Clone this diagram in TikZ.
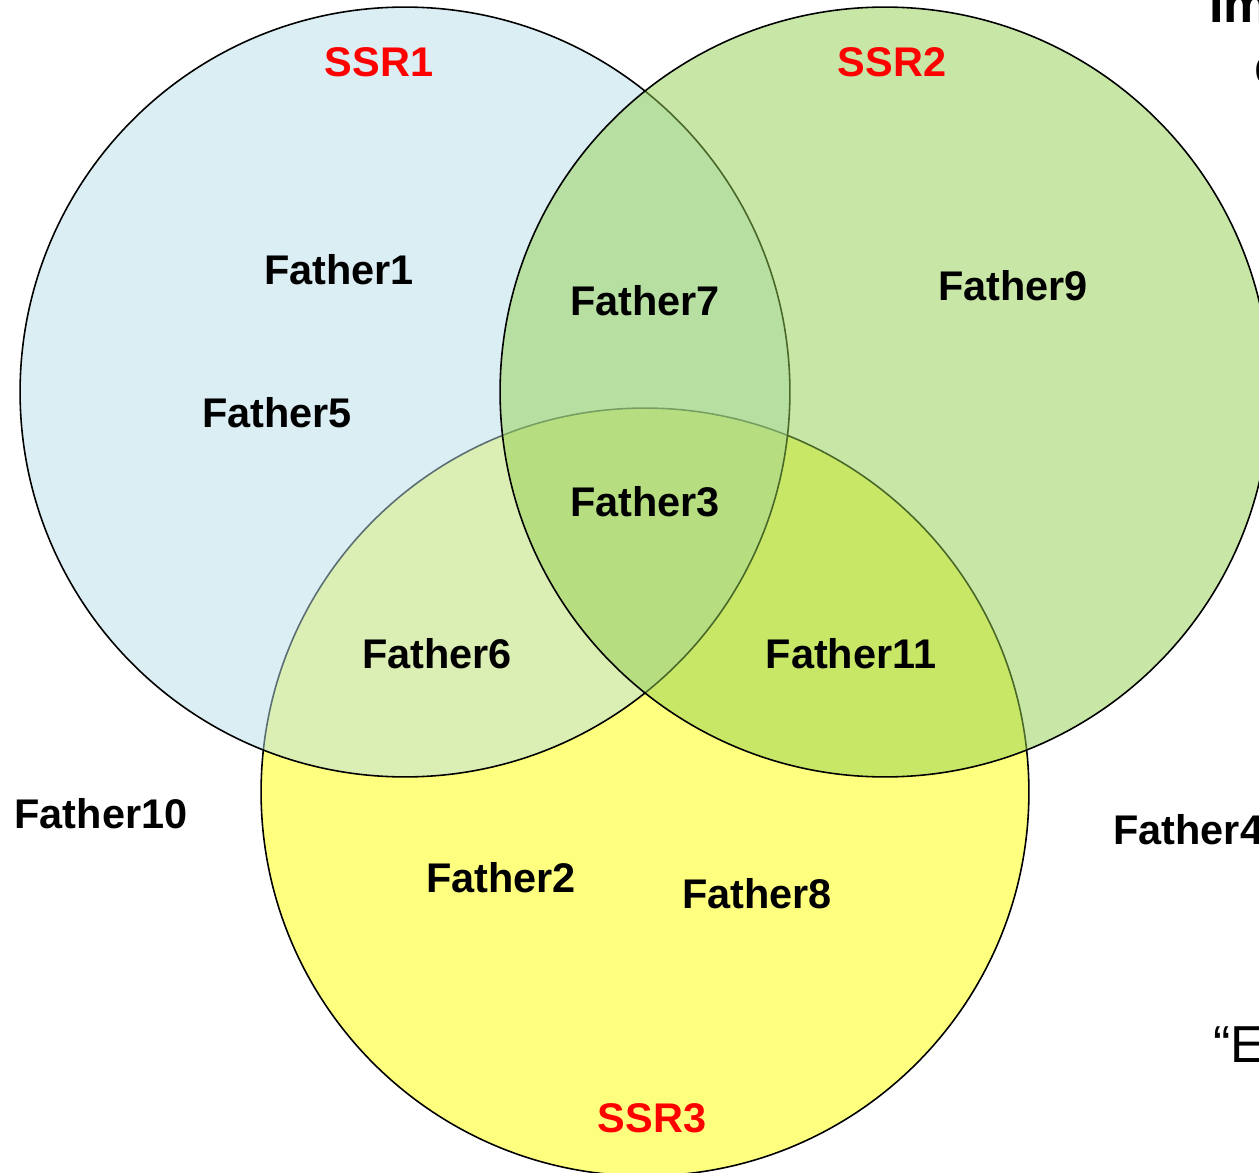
\documentclass[tikz,border=0pt]{standalone}
\usepackage{fontspec}
\setmainfont{Liberation Sans}
\definecolor{cone}{HTML}{B7DDE8}
\definecolor{ctwo}{HTML}{92D050}
\definecolor{cthree}{HTML}{FFFF00}
\begin{document}
\begin{tikzpicture}[x=0.02cm,y=-0.02cm,
  setc/.style={circle,draw=black,line width=0.9pt,fill opacity=0.5,inner sep=0,outer sep=0},
  lab/.style={font=\fontsize{23.6}{28}\selectfont\bfseries,inner sep=0},
  ssr/.style={lab,text=red},
  side/.style={font=\fontsize{29.6}{34}\selectfont,inner sep=0,anchor=base west}]
\useasboundingbox (0,0) rectangle (1259,1173);
\clip (0,0) rectangle (1259,1173);
\node[setc,fill=cthree,minimum size=15.36cm] (s3) at (645,792) {};
\node[setc,fill=cone,minimum size=15.4cm] (s1) at (405,392) {};
\node[setc,fill=ctwo,minimum size=15.4cm] (s2) at (885,392) {};
\node[ssr] (n1) at (379,62) {SSR1};
\node[ssr] (n2) at (892,62) {SSR2};
\node[ssr] (n3) at (652,1118) {SSR3};
\node[lab] (f1) at (339,270) {Father1};
\node[lab] (f5) at (277,413) {Father5};
\node[lab] (f7) at (645,301) {Father7};
\node[lab] (f9) at (1013,286) {Father9};
\node[lab] (f3) at (645,502) {Father3};
\node[lab] (f6) at (437,654) {Father6};
\node[lab] (f11) at (851,654) {Father11};
\node[lab] (f10) at (101,814) {Father10};
\node[lab] (f2) at (501,878) {Father2};
\node[lab] (f8) at (757,894) {Father8};
\node[lab,anchor=west] (f4) at (1113,830) {Father4};
\node[side,font=\fontsize{29.6}{34}\selectfont\bfseries] (t1) at (1209,22) {Im};
\node[side] (t2) at (1254,84) {c};
\node[side] (t3) at (1213,1062) {“E};
\end{tikzpicture}
\end{document}
